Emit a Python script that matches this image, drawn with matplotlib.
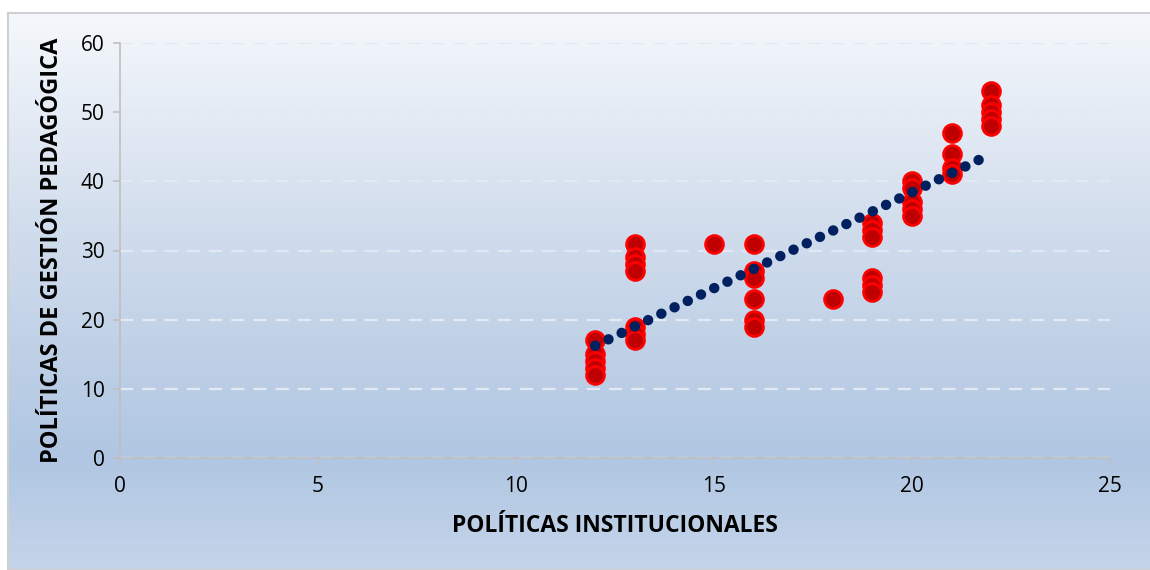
import matplotlib
matplotlib.use("Agg")
import matplotlib.pyplot as plt
import numpy as np
from matplotlib.colors import LinearSegmentedColormap
from matplotlib.patches import Rectangle

plt.rcParams["font.family"] = ["Open Sans", "DejaVu Sans"]

# data
inst_x = [12, 12, 12, 12, 12,
          13, 13, 13, 13, 13, 13, 13,
          15,
          16, 16, 16, 16, 16, 16,
          18,
          19, 19, 19, 19, 19, 19,
          20, 20, 20, 20, 20,
          21, 21, 21, 21,
          22, 22, 22, 22, 22]
gest_y = [17, 15, 14, 13, 12,
          31, 29, 28, 27, 19, 18, 17,
          31,
          31, 27, 26, 23, 20, 19,
          23,
          34, 33, 32, 26, 25, 24,
          40, 39, 37, 36, 35,
          47, 44, 42, 41,
          53, 51, 50, 49, 48]
x_ticks = [0, 5, 10, 15, 20, 25]
y_ticks = [0, 10, 20, 30, 40, 50, 60]

fig = plt.figure(figsize=(11.5, 5.7), dpi=100)

# gradient background of the chart area
bg = fig.add_axes([0, 0, 1, 1], zorder=-10)
cmap = LinearSegmentedColormap.from_list(
    "bg", [(0, "#c5d5ea"), (0.2, "#b0c6e2"), (0.6, "#d0dcec"), (1, "#f5f8fc")])
grad = np.linspace(0, 1, 256).reshape(-1, 1)
bg.add_patch(Rectangle((0, 0), 1, 1, facecolor="white", zorder=0.5))
bg.imshow(grad, aspect="auto", cmap=cmap, origin="lower",
          extent=[8 / 1150, 1, 0, 1 - 13 / 570], zorder=1)
bg.add_patch(Rectangle((8 / 1150, 0), 1.0, 1 - 13 / 570, facecolor="none",
                       edgecolor="#d0d0d0", lw=1.5, zorder=2))
bg.set_xlim(0, 1)
bg.set_ylim(0, 1)
bg.axis("off")

ax = fig.add_axes([120 / 1150, 1 - 458 / 570, 990 / 1150, 415 / 570])
ax.patch.set_alpha(0)

ax.scatter(inst_x, gest_y, s=165, facecolor="#c00000", edgecolor="#ff0000",
           linewidth=2, zorder=3)

# linear trendline
xs = np.array(inst_x, dtype=float)
ys = np.array(gest_y, dtype=float)
m, b = np.polyfit(xs, ys, 1)
tx = np.array([xs.min(), xs.max()])
ax.plot(tx, m * tx + b, color="#002060", lw=7.5, linestyle=(0, (0.01, 1.4)),
        dash_capstyle="round", zorder=4)

ax.set_xlim(0, 25)
ax.set_ylim(0, 60)
ax.set_xticks(x_ticks)
ax.set_yticks(y_ticks)
ax.grid(axis="y", color="#e2e9f3", linestyle=(0, (6, 4)), lw=1.6)
ax.set_axisbelow(True)
for s in ["top", "right"]:
    ax.spines[s].set_visible(False)
for s in ["left", "bottom"]:
    ax.spines[s].set_color("#bfbfbf")
    ax.spines[s].set_linewidth(1.2)
ax.tick_params(colors="#bfbfbf", labelcolor="black", labelsize=15, length=5, width=1.2)
ax.tick_params(axis="x", pad=8)
ax.tick_params(axis="y", pad=6)

ax.set_xlabel("POLÍTICAS INSTITUCIONALES", fontsize=16.5, fontweight="bold", labelpad=12)
ax.set_ylabel("POLÍTICAS DE GESTIÓN PEDAGÓGICA", fontsize=17, fontweight="bold", labelpad=12)

fig.savefig("out.png", dpi=100)
